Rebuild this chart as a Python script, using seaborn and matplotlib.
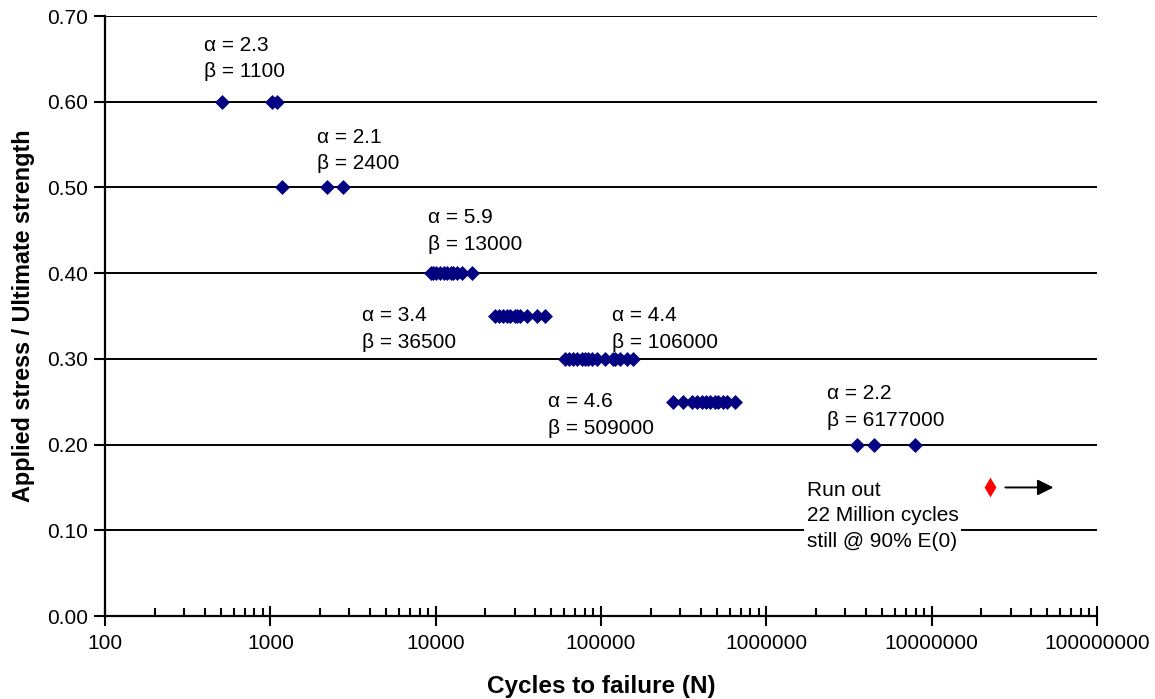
import numpy as np
import pandas as pd
import matplotlib
matplotlib.use("Agg")
import matplotlib.pyplot as plt
import seaborn as sns
from matplotlib.ticker import LogLocator, FixedLocator, NullFormatter

# ---- data ----
stress_levels = [0.60, 0.50, 0.40, 0.35, 0.30, 0.25, 0.20]
cycles_060 = [508, 1030, 1090]
cycles_050 = [1172, 2193, 2766]
cycles_040 = [9380, 9640, 10000, 10640, 11200, 11720, 12300, 12740, 13400, 14450, 16600]
cycles_035 = [22900, 24200, 25600, 27000, 28200, 30000, 31200, 32400, 35700, 41100, 45900]
cycles_030 = [60600, 64000, 67800, 72000, 76900, 80000, 83600, 88000, 94700,
              105900, 118300, 122000, 130500, 143900, 156300]
cycles_025 = [273000, 314000, 356000, 380000, 409000, 430000, 457000, 490000,
              512000, 545000, 579000, 648000]
cycles_020 = [3520000, 4490000, 7940000]
runout_cycles = [22600000]
runout_stress = [0.15]

labels_text = ["\u03b1 = 2.3\n\u03b2 = 1100", "\u03b1 = 2.1\n\u03b2 = 2400",
               "\u03b1 = 5.9\n\u03b2 = 13000", "\u03b1 = 3.4\n\u03b2 = 36500",
               "\u03b1 = 4.4\n\u03b2 = 106000", "\u03b1 = 4.6\n\u03b2 = 509000",
               "\u03b1 = 2.2\n\u03b2 = 6177000"]
label_x = [397, 1910, 8990, 3590, 116700, 47900, 2320000]
label_y = [0.6504, 0.5431, 0.4492, 0.3348, 0.3348, 0.2345, 0.2438]
runout_text = "Run out\n22 Million cycles\nstill @ 90% E(0)"
runout_text_x = 1760000
runout_text_y = 0.1168

x_ticks = [100, 1000, 10000, 100000, 1000000, 10000000, 100000000]
x_tick_labels = ["100", "1000", "10000", "100000", "1000000", "10000000", "100000000"]
y_ticks = [0.0, 0.1, 0.2, 0.3, 0.4, 0.5, 0.6, 0.7]

groups = [cycles_060, cycles_050, cycles_040, cycles_035, cycles_030, cycles_025, cycles_020]
rows = []
for s, cyc in zip(stress_levels, groups):
    for c in cyc:
        rows.append({"cycles": c, "stress": s})
df = pd.DataFrame(rows)
df_run = pd.DataFrame({"cycles": runout_cycles, "stress": runout_stress})

# ---- plot ----
sns.set_theme(style="white")
plt.rcParams['font.family'] = ['Liberation Sans', 'DejaVu Sans']
plt.rcParams['text.color'] = 'black'
plt.rcParams['axes.labelcolor'] = 'black'
plt.rcParams['xtick.color'] = 'black'
plt.rcParams['ytick.color'] = 'black'

fig = plt.figure(figsize=(11.55, 6.99), dpi=100)
ax = fig.add_axes([0.0909, 0.1187, 0.9498 - 0.0909, 0.9771 - 0.1187])

sns.scatterplot(data=df, x="cycles", y="stress", marker="D", s=58, color="#000080",
                edgecolor="#000080", linewidth=0, ax=ax, zorder=3)
sns.scatterplot(data=df_run, x="cycles", y="stress", marker="d", s=100, color="#ff0000",
                edgecolor="#ff0000", linewidth=0, ax=ax, zorder=5)

ax.set_xscale("log")
ax.set_xlim(100, 1e8)
ax.set_ylim(0, 0.7)

for yv in y_ticks[1:]:
    ax.axhline(yv, color="black", linewidth=1.4, zorder=1)

ax.set_yticks(y_ticks)
ax.set_yticklabels([f"{v:.2f}" for v in y_ticks], fontsize=15)
ax.xaxis.set_major_locator(FixedLocator(x_ticks))
ax.set_xticklabels(x_tick_labels, fontsize=15)
ax.xaxis.set_minor_locator(LogLocator(base=10, subs=np.arange(2, 10), numticks=20))
ax.xaxis.set_minor_formatter(NullFormatter())

ax.tick_params(axis="x", which="major", direction="inout", length=14, width=1.5,
               bottom=True, pad=6, colors="black")
ax.tick_params(axis="x", which="minor", direction="in", length=6, width=1.5, bottom=True)
ax.tick_params(axis="y", which="major", direction="out", length=8, width=1.5, left=True,
               pad=4, colors="black")
for sp in ["top", "right"]:
    ax.spines[sp].set_visible(False)
for sp in ["left", "bottom"]:
    ax.spines[sp].set_color("black")
    ax.spines[sp].set_linewidth(1.6)

ax.set_xlabel("Cycles to failure (N)", fontsize=17.5, fontweight="bold", labelpad=16)
ax.set_ylabel("Applied stress / Ultimate strength", fontsize=16.8, fontweight="bold",
              labelpad=9)

for t, xv, yv in zip(labels_text, label_x, label_y):
    ax.text(xv, yv, t, fontsize=15, ha="left", va="center", linespacing=1.52, zorder=4)

ax.text(runout_text_x, runout_text_y, runout_text, fontsize=15, ha="left", va="center",
        linespacing=1.43, zorder=4, bbox=dict(facecolor="white", edgecolor="none", pad=2))

ax.annotate("", xy=(5.45e7, 0.15), xytext=(2.79e7, 0.15),
            arrowprops=dict(arrowstyle="-|>", color="black", lw=1.4,
                            mutation_scale=24, shrinkA=0, shrinkB=0), zorder=4)

fig.savefig("out.png", dpi=100)
